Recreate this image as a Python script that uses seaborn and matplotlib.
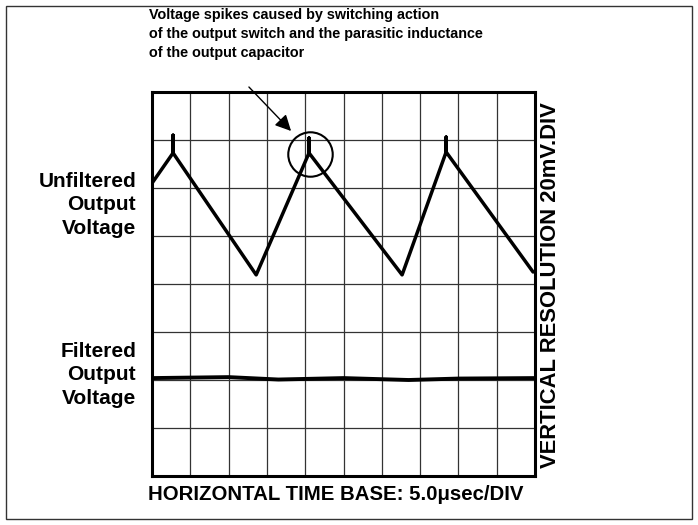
import matplotlib
matplotlib.use("Agg")
import matplotlib.pyplot as plt
import seaborn as sns
from matplotlib.patches import Rectangle

# trace of the unfiltered output (x in divisions, y in divisions)
unf_x = [0, 0.55, 0.55, 0.55, 2.72, 4.10, 4.10, 4.10, 6.53, 7.68, 7.68, 7.68, 9.95]
unf_y = [6.10, 6.73, 7.10, 6.73, 4.19, 6.73, 7.04, 6.73, 4.19, 6.75, 7.06, 6.75, 4.25]

# trace of the filtered output
filt_x = [0, 1.0, 2.0, 3.3, 5.0, 6.7, 8.0, 10.0]
filt_y = [2.04, 2.05, 2.06, 2.01, 2.04, 2.00, 2.03, 2.04]

# spike that is circled and pointed at
spike_x = 4.12
spike_y = 6.71

note = ["Voltage spikes caused by switching action",
        "of the output switch and the parasitic inductance",
        "of the output capacitor"]
unf_label = "Unfiltered\nOutput\nVoltage"
filt_label = "Filtered\nOutput\nVoltage"
x_label = "HORIZONTAL TIME BASE: 5.0\u03bcsec/DIV"
y_label = "VERTICAL RESOLUTION 20mV.DIV"

sns.set_style("white")
plt.rcParams['font.family'] = ['Liberation Sans', 'DejaVu Sans']
plt.rcParams['text.color'] = 'black'

fig = plt.figure(figsize=(6.98, 5.25), dpi=100)
ax = fig.add_axes([152/698, 1-476/525, 383/698, 384/525])

sns.lineplot(x=unf_x, y=unf_y, estimator=None, sort=False, color='black', linewidth=2.5,
             solid_capstyle='round', solid_joinstyle='round', ax=ax)
sns.lineplot(x=filt_x, y=filt_y, estimator=None, sort=False, color='black', linewidth=2.8, ax=ax)

ax.set_xlim(0, 10)
ax.set_ylim(0, 8)
ax.set_xticks(range(11))
ax.set_yticks(range(9))
ax.set_xticklabels([])
ax.set_yticklabels([])
ax.tick_params(length=0)
ax.grid(True, color='#333333', linewidth=0.9)
for s in ax.spines.values():
    s.set_visible(True)
    s.set_color('black')
    s.set_linewidth(2.2)

# circle round the middle spike
ax.plot([spike_x], [spike_y], marker='o', markersize=32, markerfacecolor='none',
        markeredgecolor='black', markeredgewidth=1.5)
ax.annotate('', xy=(293, 525-133), xycoords='figure pixels',
            xytext=(247, 525-85), textcoords='figure pixels',
            arrowprops=dict(arrowstyle='-|>', color='black', lw=1.0, mutation_scale=24))

for i, line in enumerate(note):
    fig.text(149/698, 1-(15+19*i)/525, line, ha='left', va='center', fontsize=10.4,
             fontweight='bold')
fig.text(136/698, 1-205/525, unf_label, ha='right', va='center', fontsize=15, fontweight='bold',
         linespacing=1.27)
fig.text(136/698, 1-375/525, filt_label, ha='right', va='center', fontsize=15, fontweight='bold',
         linespacing=1.27)
fig.text(336/698, 1-495/525, x_label, ha='center', va='center', fontsize=14.7, fontweight='bold')
fig.text(550/698, 1-285/525, y_label, ha='center', va='center', fontsize=15.8, fontweight='bold',
         rotation=90)

fig.patches.append(Rectangle((6/698, 6/525), 686/698, 513/525, transform=fig.transFigure,
                             fill=False, edgecolor='#333333', linewidth=1.0))

fig.savefig('out.png', dpi=100, facecolor='white')
